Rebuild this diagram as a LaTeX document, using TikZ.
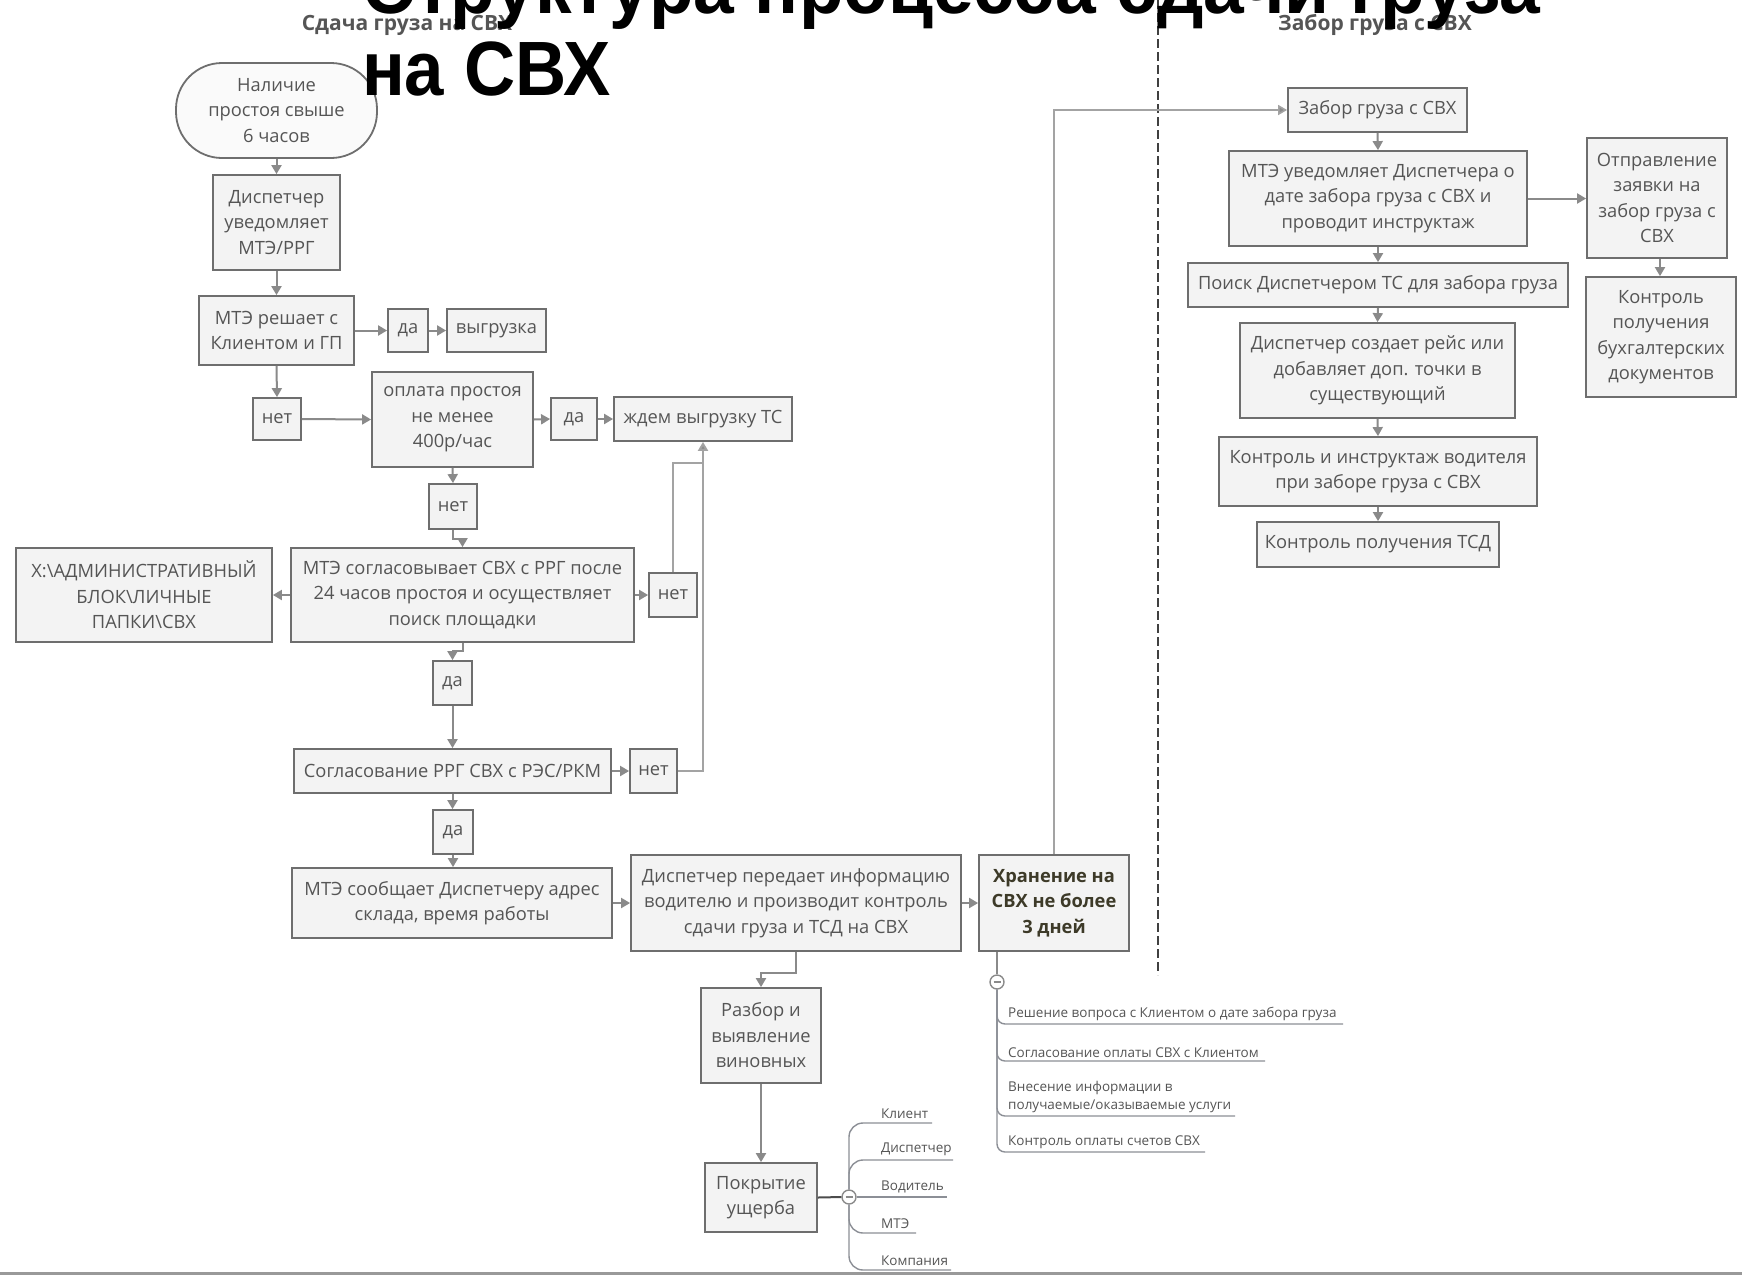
\documentclass[tikz,border=0pt]{standalone}
\usepackage{fontspec}
\setmainfont{Open Sans}
\newfontfamily\titlefam{Liberation Sans}
\usetikzlibrary{arrows.meta}
\definecolor{boxdraw}{HTML}{6E6E6E}
\definecolor{boxfill}{HTML}{F3F3F3}
\definecolor{txt}{HTML}{555555}
\definecolor{conncol}{HTML}{8A8A8A}
\definecolor{darktxt}{HTML}{3D3A28}
\definecolor{thincol}{HTML}{A3A3A3}
\definecolor{mmcol}{HTML}{8C8F96}
\tikzset{
  box/.style={draw=boxdraw, fill=boxfill, line width=1.8pt, align=center, inner sep=0pt,
    text=txt, font=\fontsize{18.3}{25.5}\selectfont},
  conn/.style={draw=conncol, line width=2pt},
  arr/.style={conn, -{Triangle[length=9pt,width=10pt]}},
  thinarr/.style={draw=thincol, line width=1.6pt, -{Triangle[length=9pt,width=10pt,fill=conncol]}},
  mm/.style={draw=mmcol, line width=1.4pt},
  mmtxt/.style={anchor=south west, inner sep=0pt, text=txt, align=left, font=\fontsize{13.5}{18}\selectfont},
  circ/.style={circle, draw=conncol, line width=1.4pt, fill=white, minimum size=14pt, inner sep=0pt},
  heading/.style={text=txt, font=\bfseries\fontsize{21}{24}\selectfont, inner sep=0pt}
}
\newcommand\mybox[7][]{\node[box,minimum width={#5-#3},minimum height={#6-#4},#1] (#2) at ({(#3+#5)/2},{(#4+#6)/2}) {#7};}
\begin{document}
\begin{tikzpicture}[x=1pt,y=-1pt]
\useasboundingbox (0,0) rectangle (1742,1275);
\fill[white] (0,0) rectangle (1742,1275);
\clip (0,0) rectangle (1742,1275);

% headings
\node[heading] (h1) at (407,25) {Сдача груза на СВХ};
\node[heading] (h2) at (1375,25) {Забор груза с СВХ};

% separator
\coordinate (dtop) at (1158,0);
\coordinate (dbot) at (1158,975);
\draw[line width=2.5pt, draw=black!75, dash pattern=on 9pt off 4pt] (dtop) -- (dbot);
\coordinate (bl) at (0,1273);
\coordinate (br) at (1742,1273);
\draw[line width=3pt, draw=black!40] (bl) -- (br);

% left column
\mybox[rounded corners=46pt, fill=white!60!boxfill]{t0}{176}{63}{377}{158}{Наличие\\простоя свыше\\6 часов}
\mybox{b1}{213}{175}{340}{270}{Диспетчер\\уведомляет\\МТЭ/РРГ}
\mybox{b2}{199}{296}{354}{365}{МТЭ решает с\\Клиентом и ГП}
\mybox{b3}{388}{309}{428}{352}{да}
\mybox{b4}{447}{309}{546}{352}{выгрузка}
\mybox{b5}{253}{398}{301}{440}{нет}
\mybox{b6}{372}{372}{533}{467}{оплата простоя\\не менее\\400р/час}
\mybox{b7}{551}{398}{597}{440}{да}
\mybox{b8}{614}{397}{792}{441}{ждем выгрузку ТС}
\mybox{b9}{429}{484}{477}{529}{нет}
\mybox{b10}{16}{548}{272}{642}{X:\textbackslash АДМИНИСТРАТИВНЫЙ\\БЛОК\textbackslash ЛИЧНЫЕ\\ПАПКИ\textbackslash СВХ}
\mybox{b11}{291}{548}{634}{642}{МТЭ согласовывает СВХ с РРГ после\\24 часов простоя и осуществляет\\поиск площадки}
\mybox{b12}{649}{573}{697}{617}{нет}
\mybox{b13}{433}{661}{472}{705}{да}
\mybox{b14}{294}{749}{611}{793}{Согласование РРГ СВХ с РЭС/РКМ}
\mybox{b15}{630}{749}{677}{793}{нет}
\mybox{b16}{433}{810}{473}{854}{да}
\mybox{b17}{292}{868}{612}{938}{МТЭ сообщает Диспетчеру адрес\\склада, время работы}
\mybox{b18}{631}{855}{961}{951}{Диспетчер передает информацию\\водителю и производит контроль\\сдачи груза и ТСД на СВХ}
\mybox[text=darktxt, font=\bfseries\fontsize{18.3}{25.5}\selectfont]{b19}{979}{855}{1129}{951}{Хранение на\\СВХ не более\\3 дней}
\mybox{b20}{701}{988}{821}{1083}{Разбор и\\выявление\\виновных}
\mybox{b21}{705}{1163}{817}{1232}{Покрытие\\ущерба}

% right column
\mybox{r1}{1288}{88}{1467}{132}{Забор груза с СВХ}
\mybox{r2}{1229}{151}{1527}{246}{МТЭ уведомляет Диспетчера о\\дате забора груза с СВХ и\\проводит инструктаж}
\mybox{r3}{1587}{138}{1727}{258}{Отправление\\заявки на\\забор груза с\\СВХ}
\mybox{r4}{1188}{263}{1568}{307}{Поиск Диспетчером ТС для забора груза}
\mybox{r5}{1240}{323}{1515}{418}{Диспетчер создает рейс или\\добавляет доп. точки в\\существующий}
\mybox{r6}{1219}{437}{1537}{506}{Контроль и инструктаж водителя\\при заборе груза с СВХ}
\mybox{r7}{1257}{522}{1499}{567}{Контроль получения ТСД}
\mybox{r8}{1586}{277}{1736}{397}{Контроль\\получения\\бухгалтерских\\документов}

% connectors left
\draw[arr] (t0.south) -- (b1.north);
\draw[arr] (b1.south) -- (b2.north);
\draw[arr] (b2.south) -- (b5.north);
\draw[arr] (b2.east) -- (b3.west);
\draw[arr] (b3.east) -- (b4.west);
\draw[arr] (b5.east) -- (b6.west);
\draw[arr] (b6.east) -- (b7.west);
\draw[arr] (b7.east) -- (b8.west);
\draw[arr] (b6.south) -- (b9.north);
\draw[arr] (b9.south) -- ++(0,9) -| (b11.north);
\draw[arr] (b11.west) -- (b10.east);
\draw[arr] (b11.east) -- (b12.west);
\draw[arr] (b11.south) -- ++(0,8) -| (b13.north);
\draw[arr] (b13.south) -- (b13.south |- b14.north);
\draw[arr] (b14.east) -- (b15.west);
\draw[arr] (b14.south) -- (b14.south |- b16.north);
\draw[arr] (b16.south) -- (b16.south |- b17.north);
\draw[arr] (b17.east) -- (b18.west);
\draw[arr] (b18.east) -- (b19.west);
\draw[arr] (b18.south) -- ++(0,21) -| (b20.north);
\draw[arr] (b20.south) -- (b21.north);
\coordinate (j) at (703,463);
\draw[draw=thincol, line width=2pt] (b12.north) |- (j);
\draw[draw=thincol, line width=2pt, -{Triangle[length=9pt,width=10pt,fill=conncol]}] (b15.east) -| (b8.south);
\draw[thinarr] (b19.north) |- (r1.west);

% connectors right
\draw[arr] (r1.south) -- (r2.north);
\draw[arr] (r2.south) -- (r4.north);
\draw[arr] (r4.south) -- (r5.north);
\draw[arr] (r5.south) -- (r6.north);
\draw[arr] (r6.south) -- (r7.north);
\draw[arr] (r2.east) -- (r2.east -| r3.west);
\draw[arr] (r3.south -| 1660,0) -- (r8.north -| 1660,0);

% mind map under storage
\node[circ] (c1) at (997,982) {\textcolor{conncol}{\rule{7pt}{1.6pt}}};
\draw[conn, line width=1.6pt] (c1 |- b19.south) -- (c1.north);
\node[mmtxt] (m1) at (1008,1021) {Решение вопроса с Клиентом о дате забора груза};
\node[mmtxt] (m2) at (1008,1058) {Согласование оплаты СВХ с Клиентом};
\node[mmtxt] (m3) at (1008,1113) {Внесение информации в\\получаемые/оказываемые услуги};
\node[mmtxt] (m4) at (1008,1149) {Контроль оплаты счетов СВХ};
\coordinate (u1) at (1343,1024);
\coordinate (u2) at (1265,1061);
\coordinate (u3) at (1235,1116);
\coordinate (u4) at (1205,1152);
\draw[mm, rounded corners=8pt] (c1.south) |- (u1);
\draw[mm, rounded corners=8pt] (c1.south) |- (u2);
\draw[mm, rounded corners=8pt] (c1.south) |- (u3);
\draw[mm, rounded corners=8pt] (c1.south) |- (u4);

% mind map for damage coverage
\node[circ] (c2) at (849,1197) {\textcolor{conncol}{\rule{7pt}{1.6pt}}};
\draw[draw=black!70, line width=2pt] (b21.east) -- (c2.west);
\node[mmtxt] (k1) at (881,1119) {Клиент};
\node[mmtxt] (k2) at (881,1156) {Диспетчер};
\node[mmtxt] (k3) at (881,1193) {Водитель};
\node[mmtxt] (k4) at (881,1229) {МТЭ};
\node[mmtxt] (k5) at (881,1266) {Компания};
\coordinate (v1) at (932,1123);
\coordinate (v2) at (953,1160);
\coordinate (v3) at (947,1197);
\coordinate (v4) at (916,1233);
\coordinate (v5) at (951,1270);
\draw[mm, rounded corners=14pt] (c2.north) |- (v1);
\draw[mm, rounded corners=14pt] (c2.north) |- (v2);
\draw[mm] (c2.east) -- (v3);
\draw[mm, rounded corners=14pt] (c2.south) |- (v4);
\draw[mm, rounded corners=14pt] (c2.south) |- (v5);

% title
\node[anchor=base west, inner sep=0pt, font=\titlefam\bfseries\fontsize{77}{80}\selectfont] (t1) at (362,13) {\scalebox{0.95}[1]{Структура процесса сдачи груза}};
\node[anchor=base west, inner sep=0pt, font=\titlefam\bfseries\fontsize{77}{80}\selectfont] (t2) at (362,95) {\scalebox{0.92}[1]{на СВХ}};
\end{tikzpicture}
\end{document}
